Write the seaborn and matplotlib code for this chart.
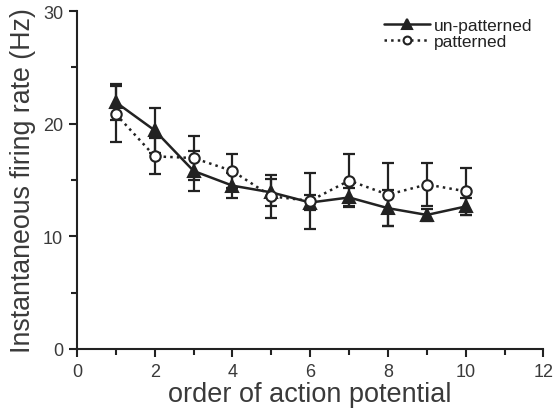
import numpy as np
import pandas as pd
import matplotlib
matplotlib.use("Agg")
import matplotlib.pyplot as plt
import seaborn as sns

# data
order = [1, 2, 3, 4, 5, 6, 7, 8, 9, 10]
unpat_mean = [21.9, 19.4, 15.8, 14.5, 13.9, 13.0, 13.45, 12.5, 11.9, 12.65]
unpat_err = [1.6, 2.0, 1.8, 1.1, 1.2, 0.7, 0.8, 1.6, 0.5, 0.75]
pat_mean = [20.85, 17.1, 16.95, 15.8, 13.55, 13.15, 14.95, 13.7, 14.6, 14.0]
pat_err = [2.45, 1.6, 1.95, 1.5, 1.9, 2.5, 2.35, 2.8, 1.9, 2.1]

df = pd.DataFrame({
    "order": order * 2,
    "rate": unpat_mean + pat_mean,
    "err": unpat_err + pat_err,
    "group": ["un-patterned"] * 10 + ["patterned"] * 10,
})

sns.set_style("ticks")
plt.rcParams["font.family"] = ["Liberation Sans", "DejaVu Sans"]

fig = plt.figure(figsize=(5.54, 4.14), dpi=100)
ax = fig.add_axes([0.139, 0.1546, 0.842, 0.8164])

col = "#222222"
txt = "#3a3a3a"
styles = {
    "un-patterned": dict(marker="^", ms=9, mfc=col, ls="-", zorder=3),
    "patterned": dict(marker="o", ms=7.5, mfc="white", ls=":", zorder=4),
}
for name, g in df.groupby("group", sort=False):
    st = styles[name]
    ax.errorbar(g["order"], g["rate"], yerr=g["err"], fmt="none",
                ecolor=col, elinewidth=1.6, capsize=4, capthick=1.6,
                zorder=st["zorder"] - 1)
    sns.lineplot(data=g, x="order", y="rate", ax=ax, color=col,
                 linestyle=st["ls"], linewidth=1.8, marker=st["marker"],
                 markersize=st["ms"], markerfacecolor=st["mfc"],
                 markeredgecolor=col, markeredgewidth=1.5,
                 label=name, zorder=st["zorder"])

ax.set_xlim(0, 12)
ax.set_ylim(0, 30)
ax.set_xticks(range(0, 13, 2))
ax.set_xticks(range(1, 12, 2), minor=True)
ax.set_yticks([0, 10, 20, 30])
ax.set_yticks([5, 15, 25], minor=True)
ax.tick_params(axis="both", which="major", length=6, width=1.5,
               labelsize=13, colors=col, labelcolor=txt, pad=4)
ax.tick_params(axis="both", which="minor", length=4, width=1.5, colors=col)
for s in ["left", "bottom"]:
    ax.spines[s].set_linewidth(1.5)
    ax.spines[s].set_color(col)
sns.despine(ax=ax)

ax.set_xlabel("order of action potential", fontsize=19.5, color=txt,
              labelpad=1)
ax.set_ylabel("Instantaneous firing rate (Hz)", fontsize=19.3, color=txt,
              labelpad=5)

leg = ax.legend(loc="upper right", frameon=False, fontsize=12.5,
                handlelength=2.7, handletextpad=0.2, labelspacing=0.05,
                markerscale=0.75, borderpad=0.0,
                bbox_to_anchor=(0.995, 1.005))
for t in leg.get_texts():
    t.set_color(col)

fig.savefig("out.png", dpi=100)
